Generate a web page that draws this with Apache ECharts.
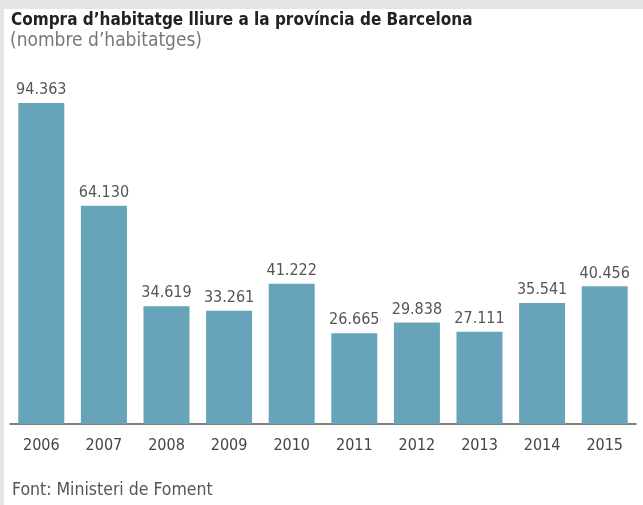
<!DOCTYPE html>
<html>
<head>
<meta charset="utf-8">
<script src="https://cdn.jsdelivr.net/npm/echarts@6/dist/echarts.min.js"></script>
<style>
html, body { margin: 0; padding: 0; background: #e5e5e5; }
#chart { width: 643px; height: 505px; }
</style>
</head>
<body>
<div id="chart"></div>
<script>
var years = ['2006','2007','2008','2009','2010','2011','2012','2013','2014','2015'];
var habitatges = [94363, 64130, 34619, 33261, 41222, 26665, 29838, 27111, 35541, 40456];

var font = "'Liberation Sans Narrow', 'DejaVu Sans Condensed', sans-serif";

// format amb punt de milers
function fmt(v) {
	return String(v).replace(/\B(?=(\d{3})+(?!\d))/g, '.');
}

var myChart = echarts.init(document.getElementById('chart'));
var option = {
	backgroundColor: '#e5e5e5',
	animation: false,
	graphic: [
		{ type: 'rect', z: -10, shape: { x: 4, y: 9, width: 639, height: 496 }, style: { fill: '#ffffff' } },
		{ type: 'text', left: 11, top: 12, style: { text: 'Compra d\u2019habitatge lliure a la província de Barcelona', fill: '#222', font: 'bold 17px ' + font } },
		{ type: 'text', left: 10, top: 32, style: { text: '(nombre d\u2019habitatges)', fill: '#777', font: '19px ' + font } },
		{ type: 'text', left: 12, top: 481, style: { text: 'Font: Ministeri de Foment', fill: '#555', font: '17.5px ' + font } }
	],
	grid: { left: 10, right: 7, top: 60, bottom: 81, containLabel: false },
	xAxis: {
		type: 'category',
		data: years,
		axisTick: { show: false },
		axisLine: { lineStyle: { color: '#555', width: 1.5 } },
		axisLabel: { color: '#444', fontSize: 16, fontFamily: font, margin: 14 }
	},
	yAxis: {
		type: 'value',
		min: 0,
		max: 107000,
		show: false,
		splitLine: { show: false }
	},
	series: [{
		type: 'bar',
		data: habitatges,
		barWidth: 46,
		itemStyle: { color: '#67a3b9' },
		label: {
			show: true,
			position: 'top',
			distance: 5,
			color: '#555',
			fontSize: 16,
			fontFamily: font,
			formatter: function(p) { return fmt(p.value); }
		}
	}]
};
myChart.setOption(option);
</script>
</body>
</html>
